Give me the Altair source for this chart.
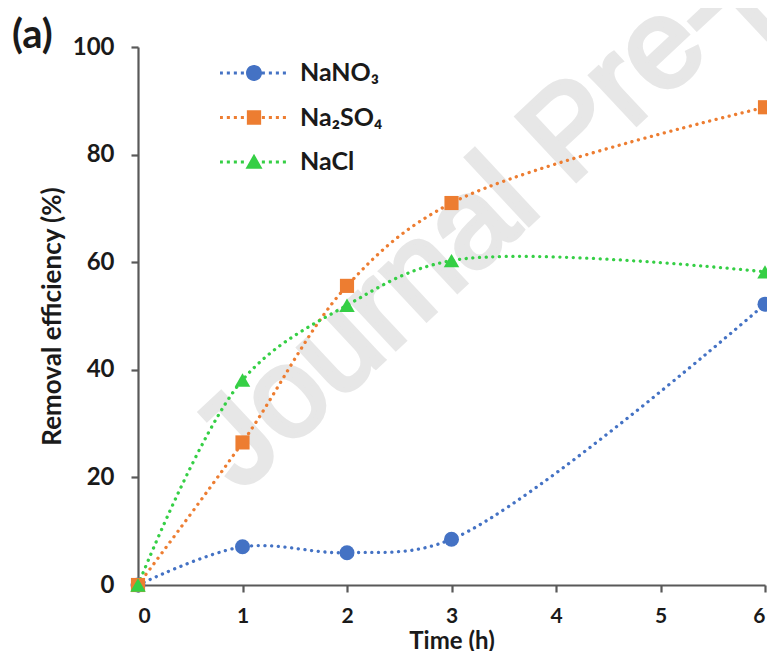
import altair as alt
import pandas as pd

# ---- data ----
time_h = [0, 1, 2, 3, 6]
series_names = ["NaNO₃", "Na₂SO₄", "NaCl"]
nano3 = [0.0, 7.1, 6.0, 8.5, 52.2]
na2so4 = [0.0, 26.5, 55.6, 71.0, 88.8]
nacl = [0.0, 38.1, 52.0, 60.3, 58.2]
colors = ["#4472C4", "#ED7D31", "#35CF45"]
point_shapes = ["circle", "square", "triangle-up"]
x_ticks = [0, 1, 2, 3, 4, 5, 6]
y_ticks = [0, 20, 40, 60, 80, 100]

rows = []
for name, vals in zip(series_names, [nano3, na2so4, nacl]):
    for t, v in zip(time_h, vals):
        rows.append({"Time": t, "Eff": v, "Series": name})
df = pd.DataFrame(rows)

FONT = "Lato"
TXT = "#1a1a1a"
AX = "#595959"

# ---- legend symbols: dotted line + marker (custom unit-square paths) ----
def dotted(exclude=0.27, step=0.206, d=0.045):
    parts = []
    x = -0.96
    while x <= 0.97:
        if abs(x) > exclude:
            parts.append(f"M{x - d:.3f},{-d:.3f}h{2 * d:.3f}v{2 * d:.3f}h{-2 * d:.3f}z")
        x += step
    return "".join(parts)

line_part = dotted()
circ = "M0.235,0A0.235,0.235,0,1,1,-0.235,0A0.235,0.235,0,1,1,0.235,0Z"
sq = "M-0.21,-0.21h0.42v0.42h-0.42z"
tri = "M0,-0.24L0.25,0.2L-0.25,0.2Z"
legend_paths = [line_part + circ, line_part + sq, line_part + tri]

x_enc = alt.X("Time:Q", scale=alt.Scale(domain=[0, 6], nice=False),
              axis=alt.Axis(values=x_ticks, title="Time (h)", format="d",
                            titleFontSize=24, titleY=44, titleBaseline="top",
                            labelPadding=13, labelFontSize=21, tickSize=7))
y_enc = alt.Y("Eff:Q", scale=alt.Scale(domain=[0, 100], nice=False),
              axis=alt.Axis(values=y_ticks, title="Removal efficiency (%)",
                            titleFontSize=26, titlePadding=7,
                            labelPadding=17, labelFontSize=24, tickSize=7))

layers = []
watermark = alt.Chart(pd.DataFrame({"w": ["Journal Pre-proof"]})).mark_text(
    font="Liberation Sans", fontSize=126, color="#e7e7e7",
    stroke="#e7e7e7", strokeWidth=5,
    angle=317, align="center", baseline="middle"
).encode(x=alt.value(433), y=alt.value(86), text="w:N")
layers.append(watermark)

for name, col in zip(series_names, colors):
    layers.append(
        alt.Chart(df).transform_filter(alt.datum.Series == name)
        .mark_line(interpolate="catmull-rom", strokeDash=[0.1, 6.6],
                   strokeCap="round", strokeWidth=3.3, color=col)
        .encode(x=x_enc, y=y_enc)
    )
for name, col, shp, sz in zip(series_names, colors, point_shapes, [225, 200, 240]):
    layers.append(
        alt.Chart(df).transform_filter(alt.datum.Series == name)
        .mark_point(filled=True, shape=shp, size=sz, opacity=1, color=col)
        .encode(x="Time:Q", y="Eff:Q")
    )

legend_layer = alt.Chart(df).transform_filter("false").mark_point(
    filled=True, opacity=1
).encode(
    x="Time:Q", y="Eff:Q",
    fill=alt.Fill("Series:N", scale=alt.Scale(domain=series_names, range=colors),
                  legend=alt.Legend(orient="none", legendX=82, legendY=9, title=None,
                                    symbolSize=4624, clipHeight=34, rowPadding=10.5,
                                    labelFont=FONT, labelFontSize=25,
                                    labelFontWeight="bold", labelColor=TXT,
                                    labelOffset=12, symbolStrokeWidth=0,
                                    padding=0, symbolOpacity=1)),
    shape=alt.Shape("Series:N", scale=alt.Scale(domain=series_names, range=legend_paths)),
)
layers.append(legend_layer)

panel_label = alt.Chart(pd.DataFrame({"p": ["(a)"]})).mark_text(
    font=FONT, fontSize=40, fontWeight="bold", color=TXT,
    align="left", baseline="alphabetic"
).encode(x=alt.value(-126), y=alt.value(1), text="p:N")
layers.append(panel_label)

chart = alt.layer(*layers).properties(
    width=627, height=538,
    autosize=alt.AutoSizeParams(type="none"),
    padding={"left": 130, "top": 39, "right": 2, "bottom": 66},
).configure(background="white").configure_view(stroke=None).configure_axis(
    grid=False, domainColor=AX, domainWidth=2.2, tickColor=AX, tickWidth=2.2,
    labelFont=FONT, labelFontWeight="bold", labelColor=TXT,
    titleFont=FONT, titleFontWeight="bold", titleColor=TXT,
)

chart.save("out.html", embed_options={"renderer": "svg", "actions": False})
